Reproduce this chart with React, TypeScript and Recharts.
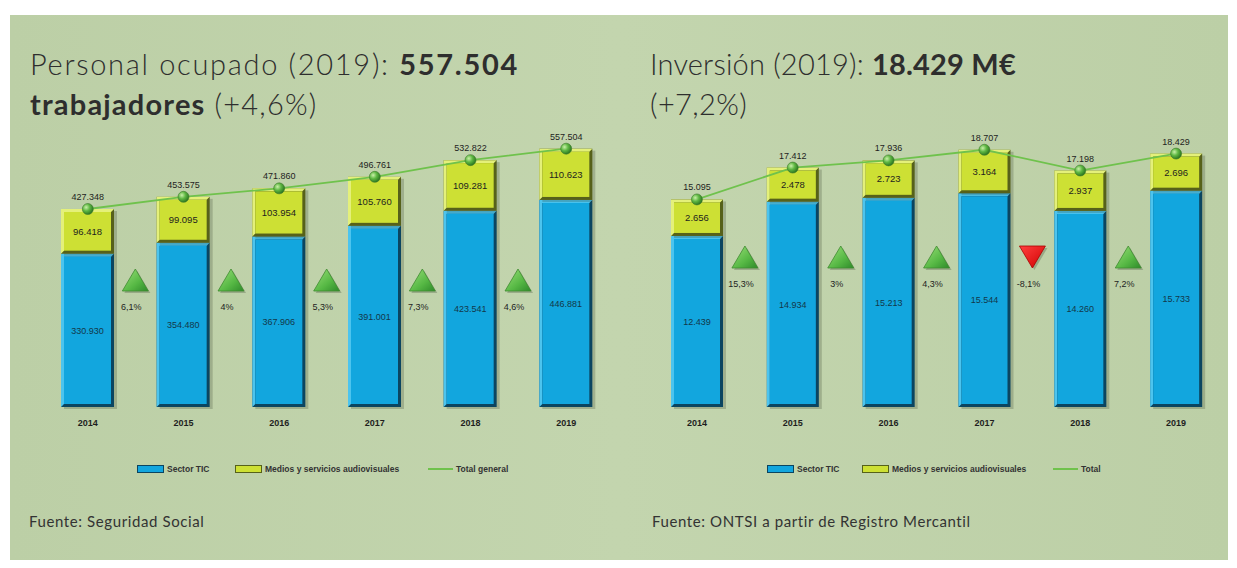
import React from "react";
import { ComposedChart, Bar, Line, XAxis, YAxis, LabelList } from "recharts";

const years = ["2014", "2015", "2016", "2017", "2018", "2019"];

// Personal ocupado
const empTic = [330930, 354480, 367906, 391001, 423541, 446881];
const empAv = [96418, 99095, 103954, 105760, 109281, 110623];
const empTotal = [427348, 453575, 471860, 496761, 532822, 557504];
const empGrowth = ["", "6,1%", "4%", "5,3%", "7,3%", "4,6%"];

// Inversión (M€)
const invTic = [12439, 14934, 15213, 15544, 14260, 15733];
const invAv = [2656, 2478, 2723, 3164, 2937, 2696];
const invTotal = [15095, 17412, 17936, 18707, 17198, 18429];
const invGrowth = ["", "15,3%", "3%", "4,3%", "-8,1%", "7,2%"];

const BLUE = "#12a6de";
const YELLOW = "#cde034";
const LINE = "#6fc24c";
const TXT = "#1e1e1e";
const FONT = "'Liberation Sans', Arial, sans-serif";

const fmt = (v: number) => String(v).replace(/\B(?=(\d{3})+(?!\d))/g, ".");

const build = (tic: number[], av: number[], total: number[], growth: string[]) =>
  years.map((y, i) => ({ year: y, tic: tic[i], av: av[i], total: total[i], growth: growth[i] }));

const empData = build(empTic, empAv, empTotal, empGrowth);
const invData = build(invTic, invAv, invTotal, invGrowth);

function BevelBar(props: any) {
  const { x, y, width, height, fill, dark, light } = props;
  if (!height || height <= 0) return null;
  const b = 3;
  return (
    <g>
      <rect x={x + 3} y={y + 2} width={width} height={height} fill="rgba(40,50,30,0.22)" />
      <rect x={x} y={y} width={width} height={height} fill={dark} />
      <polygon
        points={`${x},${y} ${x + width},${y} ${x + width - b},${y + b} ${x + b},${y + b} ${x + b},${y + height - b} ${x},${y + height}`}
        fill={light}
      />
      <rect x={x + b} y={y + b} width={width - 2 * b} height={height - 2 * b} fill={fill} />
    </g>
  );
}

function Dot(props: any) {
  const { cx, cy } = props;
  if (cx == null || cy == null) return null;
  return <circle cx={cx} cy={cy} r={5.5} fill="url(#ball)" stroke="#3c7a2a" strokeWidth={0.6} />;
}

function makeArrow(gapHalf: number, rise: number) {
  return (props: any) => {
    const { x, y, height, value } = props;
    if (!value) return null;
    const cx = x - gapHalf;
    const cy = y + height - rise;
    const down = String(value).startsWith("-");
    const w = 13;
    const h = 11;
    const pts = down
      ? `${cx - w},${cy - h} ${cx + w},${cy - h} ${cx},${cy + h}`
      : `${cx},${cy - h} ${cx + w},${cy + h} ${cx - w},${cy + h}`;
    return (
      <g>
        <polygon points={pts} fill="rgba(40,50,30,0.25)" transform="translate(2,2)" />
        <polygon points={pts} fill={down ? "url(#red)" : "url(#tri)"} stroke={down ? "#a00" : "#3f8a30"} strokeWidth={0.8} />
        <text x={cx - 4} y={cy + 30} textAnchor="middle" fontSize={9} fontFamily={FONT} fill={TXT}>
          {value}
        </text>
      </g>
    );
  };
}

function Defs() {
  return (
    <defs>
      <radialGradient id="ball" cx="35%" cy="35%" r="65%">
        <stop offset="0%" stopColor="#c9f0a8" />
        <stop offset="50%" stopColor="#5fb843" />
        <stop offset="100%" stopColor="#2f7a22" />
      </radialGradient>
      <linearGradient id="tri" x1="0" y1="0" x2="1" y2="1">
        <stop offset="0%" stopColor="#9be07a" />
        <stop offset="60%" stopColor="#56b844" />
        <stop offset="100%" stopColor="#2e8a2a" />
      </linearGradient>
      <linearGradient id="red" x1="0" y1="0" x2="1" y2="1">
        <stop offset="0%" stopColor="#ff4040" />
        <stop offset="100%" stopColor="#d00000" />
      </linearGradient>
    </defs>
  );
}

function Panel({ data, max, width, height, margin, barSize, rise }: any) {
  const plotW = width - margin.left - margin.right;
  const band = plotW / years.length;
  const gapHalf = (band - barSize) / 2;
  return (
    <ComposedChart width={width} height={height} data={data} margin={margin}>
      <Defs />
      <XAxis
        dataKey="year"
        axisLine={false}
        tickLine={false}
        tickMargin={7}
        height={30}
        tick={{ fontSize: 9, fill: TXT, fontWeight: 700, fontFamily: FONT }}
      />
      <YAxis hide domain={[0, max]} />
      <Bar
        dataKey="tic"
        stackId="s"
        barSize={barSize}
        isAnimationActive={false}
        shape={<BevelBar fill={BLUE} dark="#0b4560" light="#4cc4ee" />}
      >
        <LabelList dataKey="tic" position="center" formatter={fmt} style={{ fontSize: 9, fill: "#12384a", fontFamily: FONT }} />
        <LabelList dataKey="growth" content={makeArrow(gapHalf, rise)} />
      </Bar>
      <Bar
        dataKey="av"
        stackId="s"
        barSize={barSize}
        isAnimationActive={false}
        shape={<BevelBar fill={YELLOW} dark="#56611a" light="#e4f07a" />}
      >
        <LabelList dataKey="av" position="center" formatter={fmt} style={{ fontSize: 9.5, fill: TXT, fontFamily: FONT }} />
      </Bar>
      <Line dataKey="total" stroke={LINE} strokeWidth={1.8} dot={<Dot />} isAnimationActive={false}>
        <LabelList dataKey="total" position="top" offset={9} formatter={fmt} style={{ fontSize: 9, fill: TXT, fontFamily: FONT }} />
      </Line>
    </ComposedChart>
  );
}

function Legend({ items, top }: any) {
  return (
    <>
      {items.map((it: any) => (
        <div key={it.label} style={{ position: "absolute", left: it.x, top, height: 8, display: "flex", alignItems: "center" }}>
          {it.kind === "line" ? (
            <div style={{ width: 25, height: 2, background: LINE }} />
          ) : (
            <div style={{ width: 25, height: 6, background: it.color, border: `1px solid ${it.border}` }} />
          )}
          <span style={{ marginLeft: 3, fontSize: 8.5, fontWeight: 700, color: "#333", fontFamily: FONT, whiteSpace: "nowrap" }}>
            {it.label}
          </span>
        </div>
      ))}
    </>
  );
}

const light = "'Lato', 'Open Sans', sans-serif";

const titleLine = (top: number, left: number, spacing: number): React.CSSProperties => ({
  position: "absolute",
  left,
  top,
  fontFamily: light,
  fontSize: 29,
  color: "#2e2e2e",
  lineHeight: "36px",
  letterSpacing: spacing,
  whiteSpace: "nowrap",
});

const source = (left: number): React.CSSProperties => ({
  position: "absolute",
  left,
  top: 512,
  fontFamily: light,
  fontSize: 15,
  letterSpacing: 0.6,
  color: "#333",
  whiteSpace: "nowrap",
});

export default function App() {
  return (
    <div style={{ position: "absolute", left: 0, top: 0, width: 1237, height: 568, background: "#fff", overflow: "hidden" }}>
      <div
        style={{
          position: "absolute",
          left: 10,
          top: 15,
          width: 1218,
          height: 545,
          background: "linear-gradient(90deg, #bccfa6 0%, #c3d5ae 50%, #bccfa6 100%)",
        }}
      />
      <div style={titleLine(46, 30, 1.7)}>
        <span style={{ fontWeight: 300 }}>Personal ocupado (2019): </span>
        <span style={{ fontWeight: 700 }}>557.504</span>
      </div>
      <div style={titleLine(86, 30, 1.2)}>
        <span style={{ fontWeight: 700 }}>trabajadores</span>
        <span style={{ fontWeight: 300 }}> (+4,6%)</span>
      </div>
      <div style={titleLine(46, 650, 0.2)}>
        <span style={{ fontWeight: 300 }}>Inversión (2019): </span>
        <span style={{ fontWeight: 700 }}>18.429 M€</span>
      </div>
      <div style={titleLine(86, 650, 0.4)}>
        <span style={{ fontWeight: 300 }}>(+7,2%)</span>
      </div>

      <div style={{ position: "absolute", left: 0, top: 0 }}>
        <Panel
          data={empData}
          max={600000}
          width={640}
          height={440}
          margin={{ top: 129, right: 26, bottom: 3, left: 40 }}
          barSize={53}
          rise={127}
        />
      </div>
      <div style={{ position: "absolute", left: 600, top: 0 }}>
        <Panel
          data={invData}
          max={20000}
          width={637}
          height={440}
          margin={{ top: 132, right: 13, bottom: 3, left: 49 }}
          barSize={52}
          rise={150}
        />
      </div>

      <Legend
        top={465}
        items={[
          { x: 137, label: "Sector TIC", color: BLUE, border: "#0b4560" },
          { x: 235, label: "Medios y servicios audiovisuales", color: YELLOW, border: "#56611a" },
          { x: 428, label: "Total general", kind: "line" },
        ]}
      />
      <Legend
        top={465}
        items={[
          { x: 767, label: "Sector TIC", color: BLUE, border: "#0b4560" },
          { x: 862, label: "Medios y servicios audiovisuales", color: YELLOW, border: "#56611a" },
          { x: 1053, label: "Total", kind: "line" },
        ]}
      />

      <div style={source(29)}>Fuente: Seguridad Social</div>
      <div style={source(652)}>Fuente: ONTSI a partir de Registro Mercantil</div>
    </div>
  );
}
